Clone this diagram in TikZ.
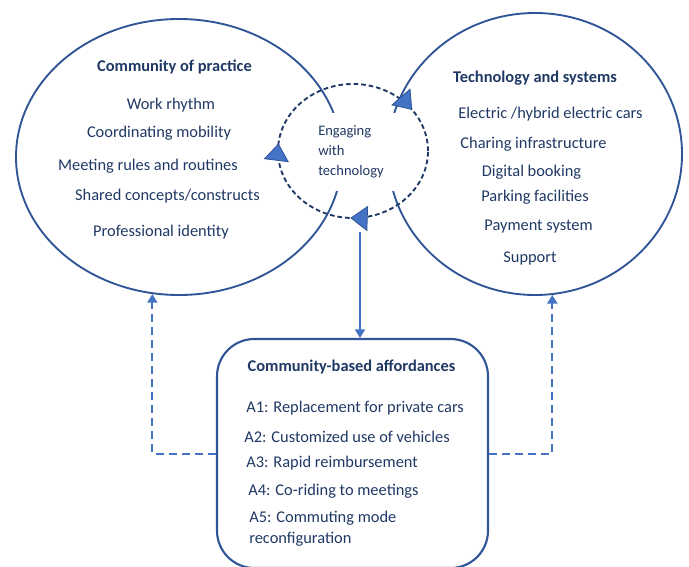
\documentclass[tikz,border=0pt]{standalone}
\usepackage{fontspec}
\setmainfont{Carlito}
\usepackage{xcolor}
\usepackage{tikz}
\usetikzlibrary{shapes.geometric, arrows.meta, decorations.markings}
\definecolor{navy}{HTML}{1F3864}
\definecolor{ringblue}{HTML}{2F5597}
\definecolor{linkblue}{HTML}{4472C4}
\newcommand{\itemfont}{\fontsize{12.3}{14}\selectfont}
\newcommand{\smallfont}{\fontsize{10.9}{15}\selectfont}
\newcommand{\headtip}{\arrowreversed{Triangle[fill=linkblue, color=ringblue, line width=0.6pt, length=13pt, width=19pt]}}
\tikzstyle{ring} = [ellipse, 
draw=ringblue, 
line width=1.4pt, 
inner sep=0pt]
\tikzstyle{heading} = [text=navy, font=\itemfont\bfseries, inner sep=0pt]
\tikzstyle{item} = [text=navy, font=\itemfont, inner sep=0pt]
\tikzstyle{affbox} = [rectangle, 
rounded corners=28pt, 
draw=ringblue, 
line width=1.6pt, 
minimum width=203.25pt, 
minimum height=171.75pt]
\tikzstyle{engage} = [rectangle, 
fill=white, 
text=navy, 
font=\smallfont, 
align=left, 
text width=66pt, 
minimum height=58.5pt, 
inner xsep=1.5pt, 
inner ysep=0pt]
\tikzstyle{loopring} = [draw=navy, 
line width=1.4pt, 
dash pattern=on 3.5pt off 2.2pt, 
postaction={decorate}, 
decoration={markings, 
mark=at position 0.101 with {\headtip}, 
mark=at position 0.483 with {\headtip}, 
mark=at position 0.744 with {\headtip}}]
\tikzstyle{arrow} = [draw=linkblue, line width=1.5pt, -{Triangle[length=6.5pt,width=7.5pt]}]
\tikzstyle{dasharrow} = [arrow, dash pattern=on 6pt off 3.75pt]

\begin{document}
\begin{tikzpicture}[x=0.75pt,y=-0.75pt]
\useasboundingbox (0,0) rectangle (689,567);
\clip (0,0) rectangle (689,567);

% the two circles
\node (cop) [ring, minimum width=244.5pt, minimum height=207pt] at (179,157) {};
\node (tas) [ring, minimum width=220.5pt, minimum height=211.5pt] at (535,154) {};

\node (cop_title) [heading] at (174.5,67) {Community of practice};
\node (rhythm) [item] at (171,105) {Work rhythm};
\node (mobility) [item] at (159,133) {Coordinating mobility};
\node (rules) [item] at (148,166) {Meeting rules and routines};
\node (concepts) [item] at (167.5,196) {Shared concepts/constructs};
\node (identity) [item] at (161,232) {Professional identity};

\node (tas_title) [heading] at (535,78) {Technology and systems};
\node (cars) [item] at (550.5,114) {Electric /hybrid electric cars};
\node (charging) [item] at (533.5,144) {Charing infrastructure};
\node (booking) [item] at (531.5,172) {Digital booking};
\node (parking) [item] at (535,197) {Parking facilities};
\node (payment) [item] at (538.5,227) {Payment system};
\node (support) [item] at (530,258) {Support};

% engaging loop in the middle
\node (engage) [engage, anchor=west] at (316,152) {Engaging\\with\\technology};
\draw [loopring] (353,151) ellipse [x radius=56.25pt, y radius=50.25pt];
\coordinate (engage_out) at (360,232);

% affordances
\node (box) [affbox] at (352.5,453.5) {};
\node (box_title) [heading] at (351.5,367) {Community-based affordances};
\node (a1) [item, anchor=west] at (246,408) {A1: Replacement for private cars};
\node (a2) [item, anchor=west] at (244,437) {A2: Customized use of vehicles};
\node (a3) [item, anchor=west] at (246,463) {A3: Rapid reimbursement};
\node (a4) [item, anchor=west] at (248,491) {A4: Co-riding to meetings};
\node (a5) [item, anchor=west, align=left, font=\fontsize{12.3}{15.75}\selectfont] at (249,528.5) {A5: Commuting mode\\reconfiguration};

\draw [arrow] (engage_out) -- (engage_out |- box.north);
\draw [dasharrow] (box.west) -| (cop.259.3);
\draw [dasharrow] (box.east) -| (tas.277.3);

\end{tikzpicture}
\end{document}
